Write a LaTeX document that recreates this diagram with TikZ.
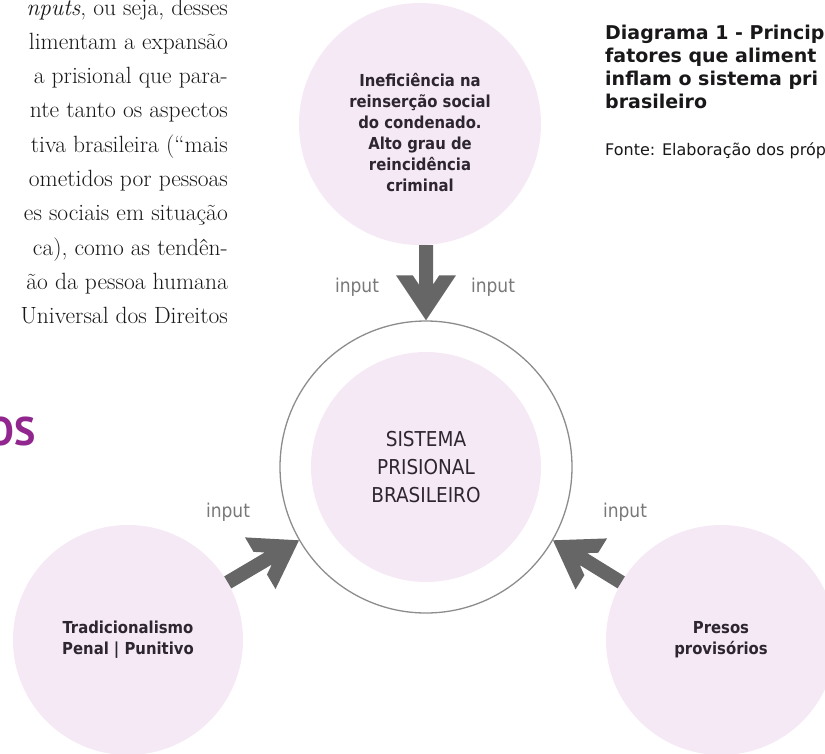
\documentclass[tikz,border=0pt]{standalone}
\usepackage{fontspec}
\usepackage{xcolor}
\usetikzlibrary{calc}
\newfontfamily\diagfont{DejaVu Sans Condensed}
\newfontfamily\capfont{DejaVu Sans}
\newfontfamily\headfont{PT Sans}

\definecolor{lilac}{RGB}{244,233,245}
\definecolor{arrowgray}{RGB}{102,102,102}
\definecolor{ringgray}{RGB}{140,140,140}
\definecolor{inputgray}{RGB}{120,120,120}
\definecolor{labeltext}{RGB}{45,38,48}
\definecolor{headpurple}{RGB}{145,38,143}
\definecolor{bodytext}{RGB}{25,23,25}

\tikzset{
  factor/.style={circle, fill=lilac, inner sep=0pt, minimum size=#1},
  factortext/.style={align=center, text=labeltext, font=\diagfont\bfseries\fontsize{16.5}{21}\selectfont},
  inputlabel/.style={text=inputgray, font=\diagfont\fontsize{19}{22}\selectfont},
  bodyline/.style={anchor=base east, inner sep=0pt, text=bodytext, font=\fontsize{23.5}{34}\selectfont},
  capline/.style={anchor=base west, inner sep=0pt, text=bodytext},
}

\begin{document}
\begin{tikzpicture}[x=1pt, y=-1pt]
    \useasboundingbox (0,0) rectangle (825,753);
    \clip (0,0) rectangle (825,753);
    % Body text column, cut at the left
    \foreach \txt [count=\i] in {{\emph{nputs}, ou seja, desses},
        {limentam a expansão}, {a prisional que para-}, {nte tanto os aspectos},
        {tiva brasileira (“mais}, {ometidos por pessoas}, {es sociais em situação},
        {ca), como as tendên-}, {ão da pessoa humana}, {Universal dos Direitos}}
      \node[bodyline] (body\i) at (228,{15+34.3*(\i-1)}) {\txt};
    % Heading, cut at the left
    \node[anchor=base east, inner sep=0pt, text=headpurple, font=\headfont\bfseries\fontsize{40}{40}\selectfont] (heading) at (36,445) {OS};
    % Caption
    \foreach \txt [count=\i] in {{Diagrama 1 - Princip}, {fatores que aliment},
        {inflam o sistema pri}, {brasileiro}}
      \node[capline, font=\capfont\bfseries\fontsize{19}{23}\selectfont] (cap\i) at (605,{39+23*(\i-1)}) {\txt};
    \node[capline, font=\capfont\fontsize{16}{19}\selectfont] (source) at (605,155) {Fonte: Elaboração dos próp};
    % Factor circles
    \node[factor=242pt] (topc) at (420,124) {};
    \node[factortext] (topt) at (420,132.5) {Ineficiência na\\reinserção social\\do condenado.\\Alto grau de\\reincidência\\criminal};
    \node[factor=230pt, factortext] (trad) at (128,640) {Tradicionalismo\\Penal | Punitivo};
    \node[factor=230pt, factortext] (presos) at (721,640) {Presos\\provisórios};
    % Central system
    \node[circle, draw=ringgray, line width=1.3pt, minimum size=292pt, inner sep=0pt] (ring) at (426,467) {};
    \node[factor=230pt, align=center, text=labeltext, font=\diagfont\fontsize{20.5}{28}\selectfont] (sys) at (ring) {SISTEMA\\PRISIONAL\\BRASILEIRO};
    % Input arrows
    \coordinate (topin) at (topc.south -| ring.north);
    \foreach \s/\t in {topin/ring.north, trad.30/ring.210, presos.150/ring.330}
      \fill[arrowgray] (\t)
        -- ($($(\t)!45pt!(\s)$)!30pt!90:(\s)$)
        -- ($($(\t)!45pt!(\s)$)!13.2pt!90:(\s)$)
        -- ($($(\t)!35.7pt!(\s)$)!7pt!90:(\s)$)
        -- ($(\s)!7pt!-90:(\t)$)
        -- ($(\s)!7pt!90:(\t)$)
        -- ($($(\t)!35.7pt!(\s)$)!7pt!-90:(\s)$)
        -- ($($(\t)!45pt!(\s)$)!13.2pt!-90:(\s)$)
        -- ($($(\t)!45pt!(\s)$)!30pt!-90:(\s)$)
        -- cycle;
    % Labels
    \node[inputlabel] (in1) at (357,287) {input};
    \node[inputlabel] (in2) at (493,287) {input};
    \node[inputlabel] (in3) at (228,512) {input};
    \node[inputlabel] (in4) at (625,512) {input};
\end{tikzpicture}
\end{document}
